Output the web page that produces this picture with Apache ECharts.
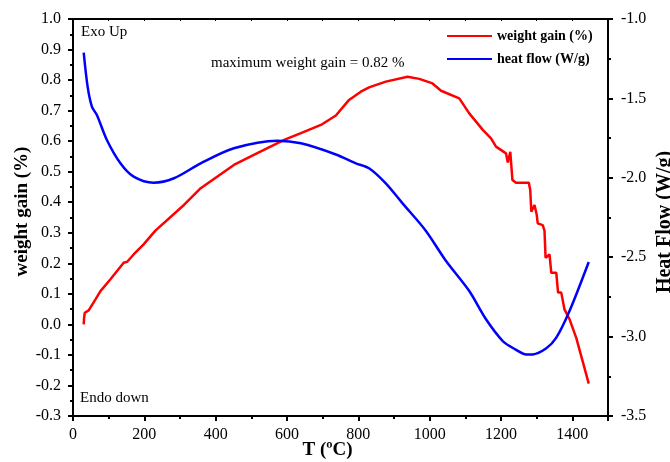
<!DOCTYPE html>
<html>
<head>
<meta charset="utf-8">
<script src="https://cdn.jsdelivr.net/npm/echarts@6/dist/echarts.min.js"></script>
<style>
  html, body { margin: 0; padding: 0; background: #fff; }
  #chart { width: 670px; height: 462px; }
</style>
</head>
<body>
<div id="chart"></div>
<script>
// weight gain curve (left axis)
const weightT = [30, 31, 33, 44, 63, 77, 105, 142, 152, 170, 198, 231, 311, 358, 451, 507, 592, 639, 695, 737, 774, 807, 830, 877, 938, 971, 1008, 1032, 1083, 1111, 1149, 1172, 1186, 1214, 1219, 1226, 1232, 1242, 1278, 1282, 1285, 1294, 1300, 1303, 1317, 1322, 1325, 1336, 1341, 1355, 1360, 1369, 1378, 1392, 1411, 1430, 1446]
const weightGain = [0.0, 0.02, 0.038, 0.046, 0.082, 0.109, 0.148, 0.202, 0.205, 0.229, 0.262, 0.307, 0.391, 0.446, 0.522, 0.555, 0.604, 0.626, 0.653, 0.684, 0.735, 0.762, 0.776, 0.795, 0.811, 0.804, 0.789, 0.765, 0.740, 0.691, 0.637, 0.609, 0.582, 0.560, 0.530, 0.565, 0.473, 0.464, 0.464, 0.44, 0.369, 0.391, 0.36, 0.331, 0.325, 0.306, 0.218, 0.229, 0.169, 0.169, 0.104, 0.104, 0.049, 0.017, -0.044, -0.125, -0.194]
// heat flow curve (right axis)
const heatT = [30, 41, 53, 67, 95, 133, 170, 226, 283, 358, 451, 573, 639, 737, 793, 830, 877, 924, 988, 1046, 1111, 1158, 1205, 1240, 1271, 1289, 1327, 1355, 1392, 1446]
const heatFlow = [-1.212, -1.426, -1.552, -1.605, -1.762, -1.909, -1.993, -2.031, -2.003, -1.909, -1.814, -1.766, -1.783, -1.853, -1.909, -1.940, -2.035, -2.161, -2.33, -2.524, -2.713, -2.891, -3.028, -3.08, -3.112, -3.112, -3.074, -3.007, -2.839, -2.530]

const font = '"Liberation Serif", "Times New Roman", serif'
const black = '#000'

const zip = (xs, ys) => xs.map((x, i) => [x, ys[i]])

const axisBase = {
  axisLine: { show: true, onZero: false, lineStyle: { color: black, width: 2 } },
  axisTick: { show: true, inside: false, length: 5, lineStyle: { color: black, width: 2 } },
  minorTick: { show: true, splitNumber: 2, length: 3, lineStyle: { color: black, width: 2 } },
  splitLine: { show: false },
  axisLabel: { color: black, fontFamily: font, fontSize: 16 },
  nameMoveOverlap: false
}

const option = {
  animation: false,
  backgroundColor: '#fff',
  grid: { left: 73, top: 19, right: 62, bottom: 46, containLabel: false, outerBoundsMode: 'none' },
  legend: {
    orient: 'vertical',
    left: 442,
    top: 24,
    itemWidth: 45,
    itemHeight: 2,
    itemGap: 9,
    icon: 'rect',
    textStyle: { fontFamily: font, fontSize: 14, fontWeight: 'bold', color: black },
    data: ['weight gain (%)', 'heat flow (W/g)']
  },
  xAxis: [
    {
      ...axisBase,
      type: 'value',
      min: 0,
      max: 1500,
      interval: 200,
      name: 'T (ºC)',
      nameLocation: 'middle',
      nameGap: 25,
      nameTextStyle: { fontFamily: font, fontSize: 19, fontWeight: 'bold', color: black, padding: [0, 26, 0, 0] },
      axisLabel: { ...axisBase.axisLabel, margin: 11, showMaxLabel: false, formatter: v => String(v) }
    },
    {
      type: 'value',
      position: 'top',
      min: 0,
      max: 1500,
      interval: 100,
      axisLine: { show: true, onZero: false, lineStyle: { color: black, width: 2 } },
      axisTick: { show: true, inside: true, length: 2, lineStyle: { color: black, width: 1 } },
      axisLabel: { show: false },
      splitLine: { show: false }
    }
  ],
  yAxis: [
    {
      ...axisBase,
      type: 'value',
      min: -0.3,
      max: 1.0,
      interval: 0.1,
      name: 'weight gain (%)',
      nameLocation: 'middle',
      nameGap: 41,
      nameRotate: 90,
      nameTextStyle: { fontFamily: font, fontSize: 19, fontWeight: 'bold', color: black, padding: [0, 0, 0, 12] },
      axisLabel: { ...axisBase.axisLabel, margin: 12, formatter: v => v.toFixed(1) }
    },
    {
      ...axisBase,
      type: 'value',
      position: 'right',
      min: -3.5,
      max: -1.0,
      interval: 0.5,
      name: 'Heat Flow (W/g)',
      nameLocation: 'middle',
      nameGap: 47,
      nameRotate: 90,
      nameTextStyle: { fontFamily: font, fontSize: 20, fontWeight: 'bold', color: black, padding: [0, 9, 0, 0] },
      axisLabel: { ...axisBase.axisLabel, margin: 13, formatter: v => v.toFixed(1) }
    }
  ],
  graphic: [
    { type: 'text', left: 81, top: 25, style: { text: 'Exo Up', fontFamily: font, fontSize: 15, fill: black } },
    { type: 'text', left: 80, top: 391, style: { text: 'Endo down', fontFamily: font, fontSize: 15, fill: black } },
    { type: 'text', left: 211, top: 56, style: { text: 'maximum weight gain = 0.82 %', fontFamily: font, fontSize: 15, fill: black } }
  ],
  series: [
    {
      name: 'weight gain (%)',
      type: 'line',
      xAxisIndex: 0,
      yAxisIndex: 0,
      showSymbol: false,
      color: '#ff0000',
      lineStyle: { color: '#ff0000', width: 2.5 },
      data: zip(weightT, weightGain)
    },
    {
      name: 'heat flow (W/g)',
      type: 'line',
      xAxisIndex: 0,
      yAxisIndex: 1,
      showSymbol: false,
      smooth: 0.3,
      color: '#0000ff',
      lineStyle: { color: '#0000ff', width: 2.5 },
      data: zip(heatT, heatFlow)
    }
  ]
}

const chart = echarts.init(document.getElementById('chart'))
chart.setOption(option)
</script>
</body>
</html>
